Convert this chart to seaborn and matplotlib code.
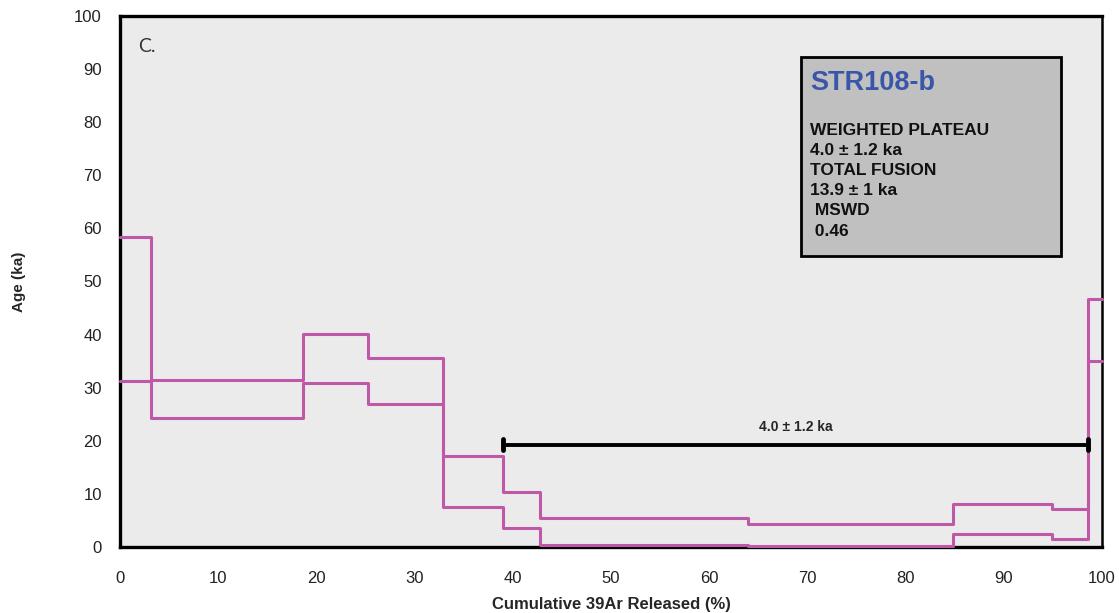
import numpy as np
import pandas as pd
import seaborn as sns
import matplotlib.pyplot as plt

# --- step data (cumulative 39Ar %, age in ka) ---
step_edges = [0, 3.2, 18.6, 25.3, 32.9, 39.05, 42.8, 64.0, 84.8, 94.9, 98.6, 100]
age_upper = [58.3, 31.4, 40.2, 35.5, 17.1, 10.4, 5.5, 4.4, 8.1, 7.2, 46.7]
age_lower = [31.2, 24.3, 30.8, 27.0, 7.6, 3.6, 0.3, 0.25, 2.45, 1.57, 35.0]

plateau_start = 39.05
plateau_end = 98.6
plateau_age = 19.3
plateau_label = "4.0 \u00b1 1.2 ka"

sample_name = "STR108-b"
info_lines = ["WEIGHTED PLATEAU", "4.0 \u00b1 1.2 ka", "TOTAL FUSION",
              "13.9 \u00b1 1 ka", " MSWD", " 0.46"]

# --- build step-post frames ---
upper = pd.DataFrame({"x": step_edges, "age": age_upper + [age_upper[-1]]})
lower = pd.DataFrame({"x": step_edges, "age": age_lower + [age_lower[-1]]})

sns.set_style("white")
plt.rcParams['font.family'] = ['Liberation Sans', 'DejaVu Sans']

fig = plt.figure(figsize=(11.19, 6.13), dpi=100)
ax = fig.add_axes([0.1072, 0.1077, 0.8776, 0.8662])
ax.set_facecolor("#ebebeb")

pink = "#c058a8"
for df in (upper, lower):
    sns.lineplot(data=df, x="x", y="age", drawstyle="steps-post", color=pink,
                 lw=2.2, estimator=None, sort=False, ax=ax, zorder=3)
for ln in ax.get_lines():
    ln.set_clip_on(False)

# plateau bar
ax.plot([plateau_start, plateau_end], [plateau_age, plateau_age], color="black", lw=2.8,
        zorder=4)
for xe in (plateau_start, plateau_end):
    ax.plot([xe, xe], [plateau_age - 1.0, plateau_age + 1.0], color="black", lw=3.5,
            solid_capstyle="round", zorder=4)
ax.text((plateau_start + plateau_end) / 2, plateau_age + 3.3, plateau_label,
        ha="center", va="center", fontsize=10, fontweight="bold")

ax.set_xlim(0, 100)
ax.set_ylim(0, 100)
ax.set_xticks(range(0, 101, 10))
ax.set_yticks(range(0, 101, 10))
ax.tick_params(axis="both", direction="out", length=5, width=2.2, labelsize=12,
               labelcolor="#222222")
ax.tick_params(axis="x", pad=12)
ax.tick_params(axis="y", pad=8)
for side in ["left", "bottom", "top"]:
    ax.spines[side].set_linewidth(2.4)
ax.spines["right"].set_linewidth(1.8)
for s in ax.spines.values():
    s.set_color("black")

ax.set_xlabel("Cumulative 39Ar Released (%)", fontsize=12, fontweight="bold", labelpad=8)
ax.set_ylabel("Age (ka)", fontsize=11, fontweight="bold", labelpad=35)

ax.text(0.018, 0.943, "C.", transform=ax.transAxes, fontsize=14, color="#333333",
        va="center", ha="left", family=["Lato", "DejaVu Sans"])

# info box
box = plt.Rectangle((0.694, 0.548), 0.264, 0.375, transform=ax.transAxes,
                    facecolor="#c0c0c0", edgecolor="black", lw=2, zorder=5)
ax.add_patch(box)
ax.text(0.703, 0.873, sample_name, transform=ax.transAxes, fontsize=19.5,
        fontweight="bold", color="#3a56a8", va="center", ha="left", zorder=6)
y0 = 0.784
for i, line in enumerate(info_lines):
    ax.text(0.703, y0 - i * 0.0378, line, transform=ax.transAxes, fontsize=12.5,
            fontweight="bold", color="#111111", va="center", ha="left", zorder=6)

fig.savefig("out.png", dpi=100)
